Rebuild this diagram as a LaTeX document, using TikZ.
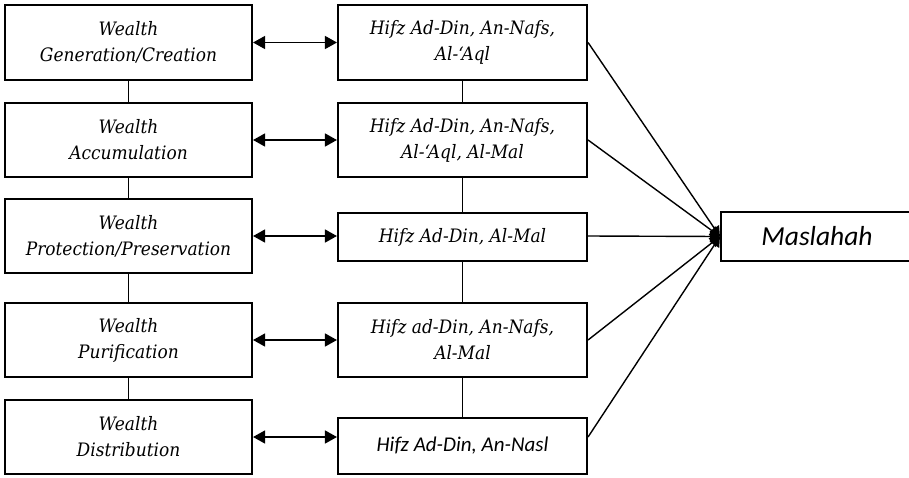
\documentclass[tikz,border=0pt]{standalone}
\usepackage{fontspec}
\setmainfont{DejaVu Serif}
\newfontfamily\serifit[FakeStretch=0.92]{DejaVu Serif}
\newfontfamily\sansit{Carlito}
\usetikzlibrary{arrows.meta}
\begin{document}
\begin{tikzpicture}[x=1pt,y=-1pt,
  box/.style={draw, line width=2.1pt, rectangle, inner sep=0pt, align=center,
    font=\serifit\itshape\fontsize{18.5}{26}\selectfont},
  lbox/.style={box, minimum width=247pt},
  mbox/.style={box, minimum width=249pt},
  conn/.style={line width=1.4pt},
  dbl/.style={conn, {Triangle[length=12pt,width=13pt]}-{Triangle[length=12pt,width=13pt]}},
  toM/.style={conn, -{Triangle[length=10pt,width=11pt]}}]
\useasboundingbox (0,0) rectangle (909,477);
\clip (0,0) rectangle (909,477);
\node[lbox, minimum height=75pt] (B1) at (128.5,42.5) {Wealth\\Generation/Creation};
\node[lbox, minimum height=74pt] (B2) at (128.5,140) {Wealth\\Accumulation};
\node[lbox, minimum height=74pt] (B3) at (128.5,236) {Wealth\\Protection/Preservation};
\node[lbox, minimum height=74pt] (B4) at (128.5,340) {Wealth\\Purification};
\node[lbox, minimum height=74pt] (B5) at (128.5,437) {Wealth\\Distribution};
\node[mbox, minimum height=75pt] (M1) at (462.5,42.5) {Hifz Ad-Din, An-Nafs,\\Al-‘Aql};
\node[mbox, minimum height=74pt] (M2) at (462.5,140) {Hifz Ad-Din, An-Nafs,\\Al-‘Aql, Al-Mal};
\node[mbox, minimum height=48pt] (M3) at (462.5,237) {Hifz Ad-Din, Al-Mal};
\node[mbox, minimum height=74pt] (M4) at (462.5,340) {Hifz ad-Din, An-Nafs,\\Al-Mal};
\node[mbox, minimum height=56pt, font=\sansit\itshape\fontsize{21}{26}\selectfont] (M5) at (462.5,446) {Hifz Ad-Din, An-Nasl};
\node[box, minimum width=192pt, minimum height=49pt, font=\sansit\itshape\fontsize{27.5}{30}\selectfont] (Ms) at (817,236.5) {Maslahah};
\foreach \a/\b in {B1/B2,B2/B3,B3/B4,B4/B5,M1/M2,M2/M3,M3/M4,M4/M5}
  \draw[conn] (\a.south) -- (\b.north);
\foreach \a/\b in {B1/M1,B2/M2,B3/M3,B4/M4,B5/M5}
  \draw[dbl] (\a.east) -- (\a.east -| \b.west);
\foreach \b/\a in {M1/B1,M2/B2,M3/B3,M4/B4,M5/B5}
  \draw[toM] (\b.east |- \a.east) -- (Ms.west);
\end{tikzpicture}
\end{document}
